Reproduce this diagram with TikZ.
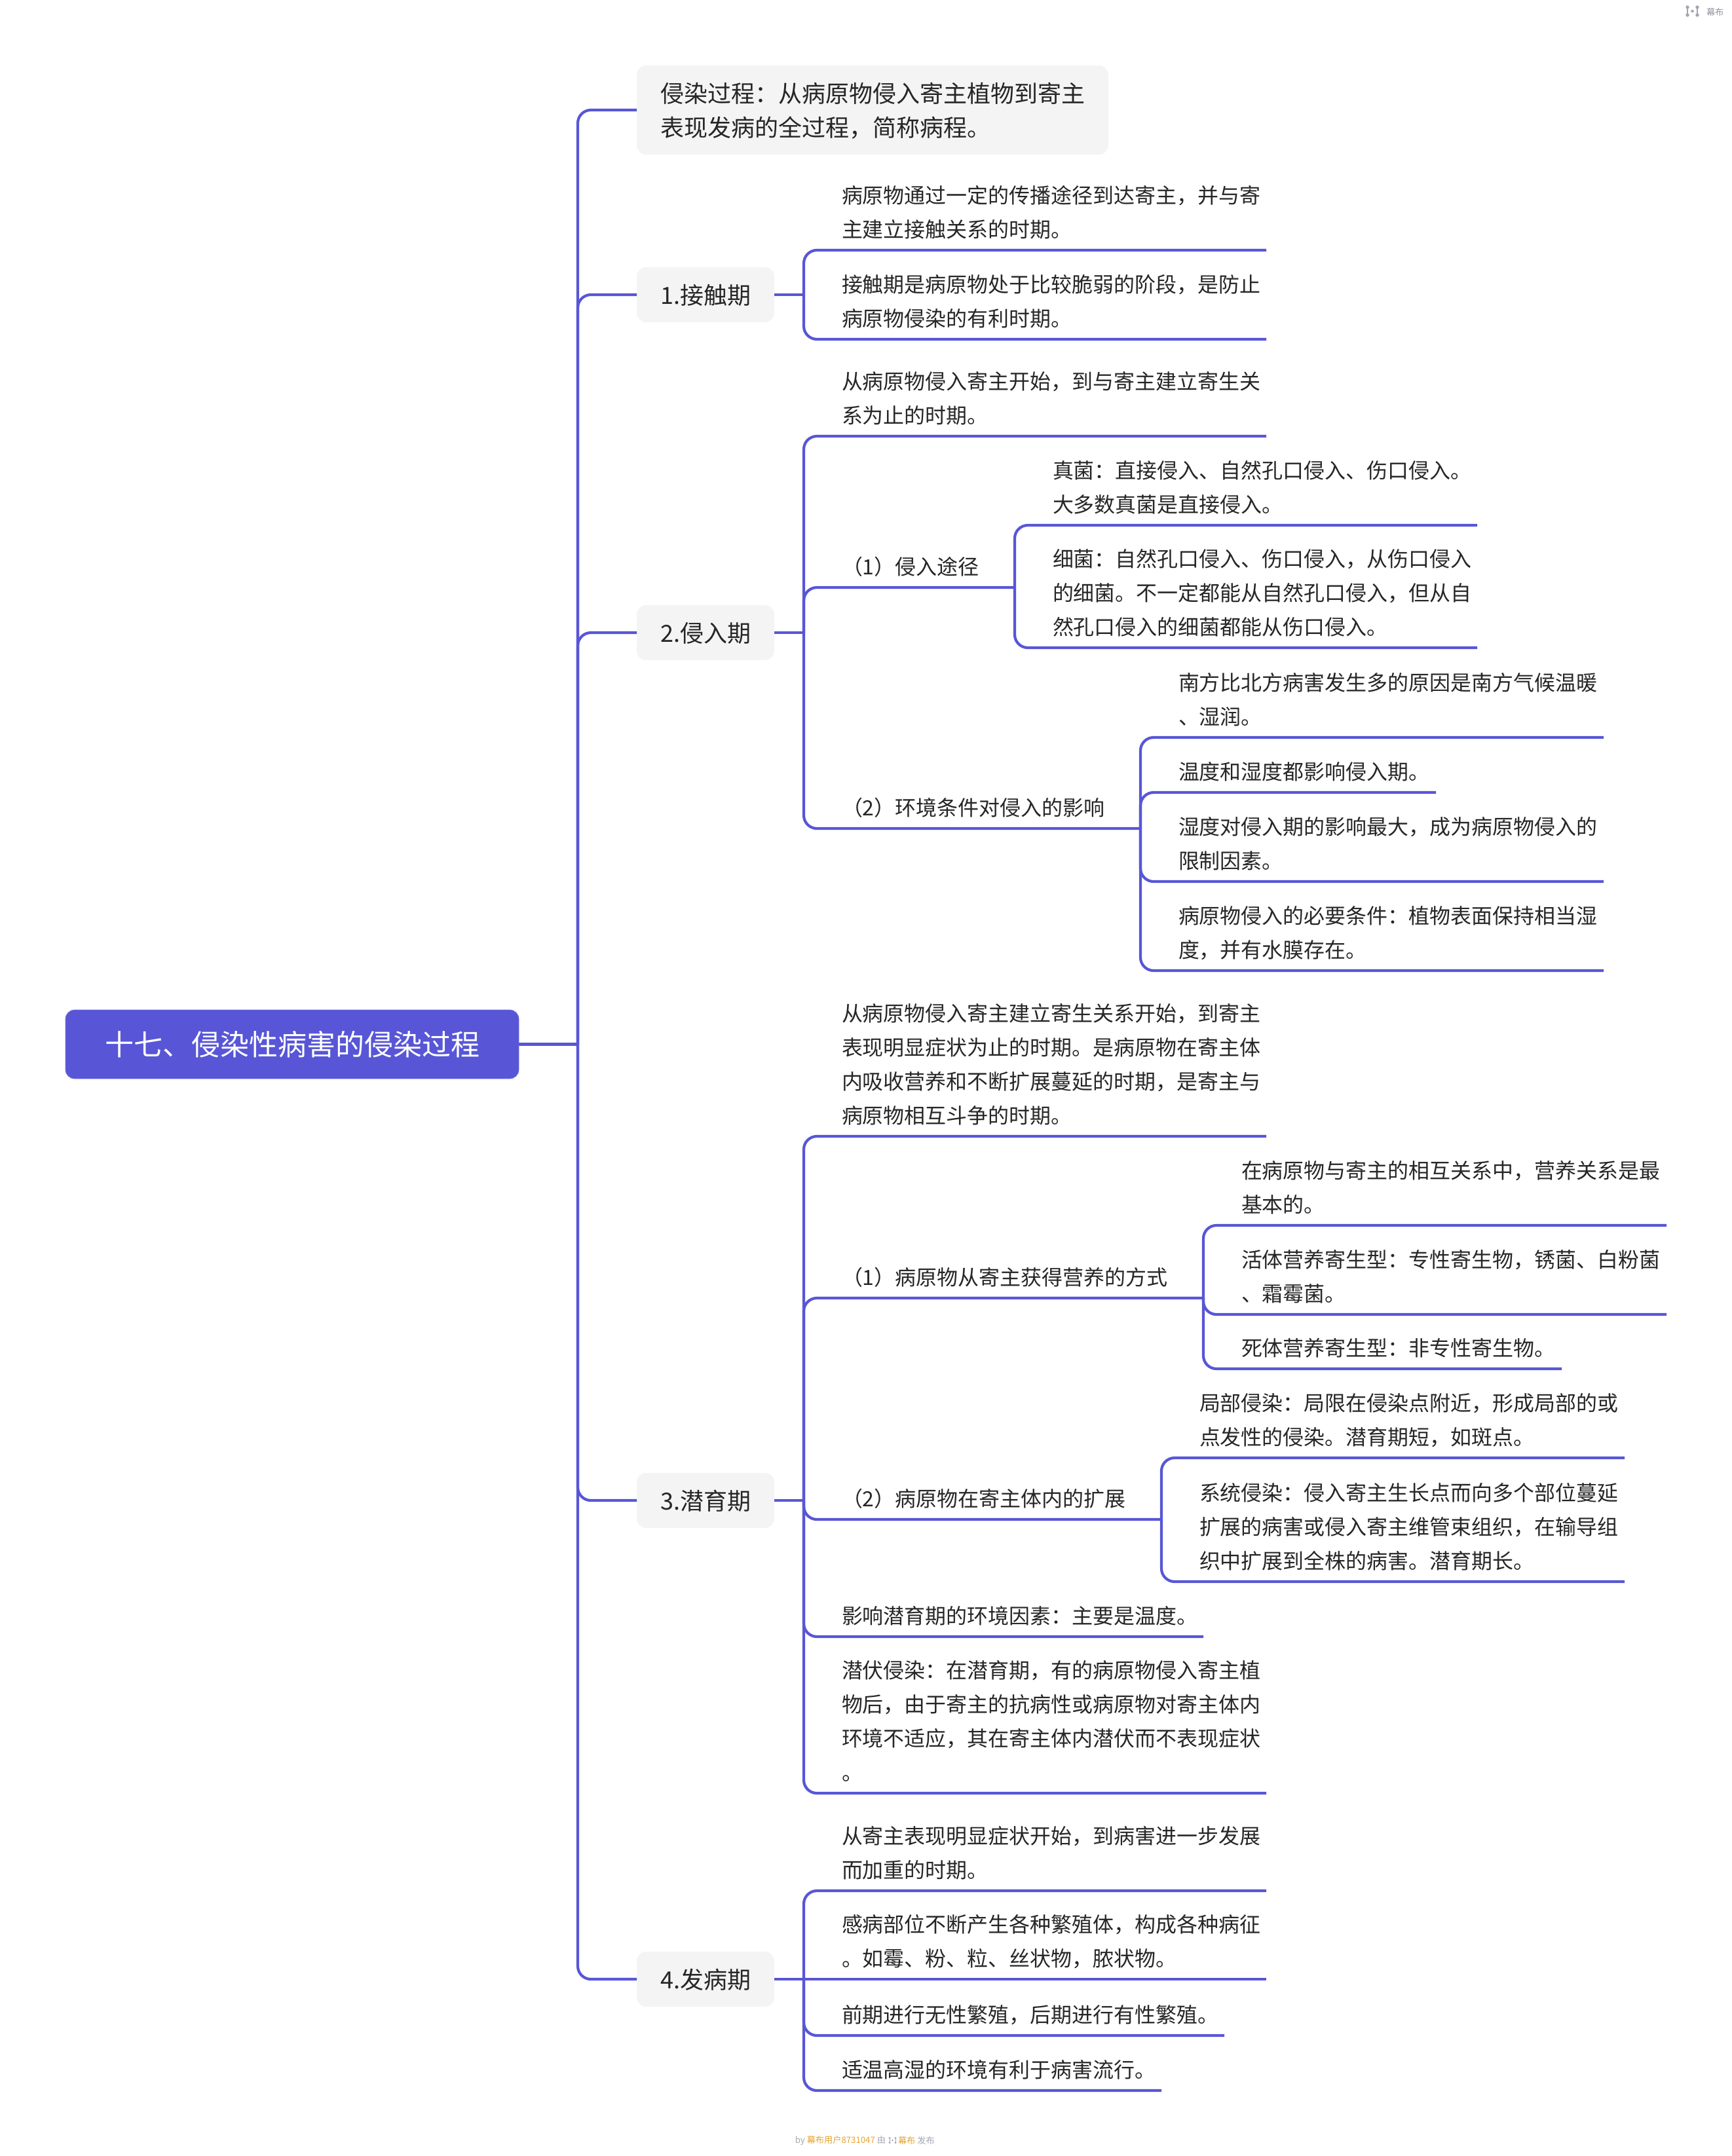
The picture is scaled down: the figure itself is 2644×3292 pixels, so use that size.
\documentclass[tikz,border=0pt]{standalone}
\usepackage{fontspec}
\setmainfont{Noto Sans CJK SC}
\definecolor{indigo}{HTML}{5856D6}
\definecolor{ink}{HTML}{262626}
\definecolor{boxfill}{HTML}{F4F4F4}
\definecolor{mutedgrey}{HTML}{A2A6AE}
\definecolor{amber}{HTML}{E5A32E}
\tikzset{
  conn/.style={draw=indigo,line width=2.1pt,rounded corners=10pt},
  stub/.style={draw=indigo,line width=2.1pt},
  rootbox/.style={fill=indigo,draw=indigo!85!white,line width=.4pt,rounded corners=7pt,text=white,font=\fontsize{22}{26}\selectfont,minimum width=346pt,minimum height=52.5pt,inner sep=0pt,anchor=west,outer sep=0pt},
  topbox/.style={fill=boxfill,rounded corners=7pt,text=ink,font=\fontsize{18}{26.25}\selectfont,minimum height=42pt,minimum width=105pt,inner sep=0pt,anchor=west,outer sep=0pt},
  leafnode/.style={anchor=south west,inner sep=0pt,outer sep=0pt,text=ink},
  foot/.style={font=\fontsize{6.6}{8}\selectfont,inner sep=0pt,outer sep=0pt,text=mutedgrey},
}
\newcommand\leaf[5]{%
  \pgfmathsetmacro\lfwidth{(#3-#2)/2}%
  \node[leafnode] (#1) at (#2,#4) {\makebox[\lfwidth pt][l]{\fontsize{15.98}{26}\selectfont\hspace*{29pt}\begin{tabular}[b]{@{}l@{}}#5\rule[-9.75pt]{0pt}{0pt}\end{tabular}}};}
\newcommand\topconn[1]{\draw[conn] (root.east -| trunk) -- (trunk |- #1.west) -- (#1.west);}
\newcommand\grpstub[2]{\draw[stub] (#1.east) -- (#1.east -| #2.south west);}
\newcommand\grpconn[2]{\draw[conn] (#1.east -| #2.south west) -- (#2.south west) -- (#2.south east);}
\newcommand\subconn[2]{\draw[conn] (#1.south east) -- (#2.south west) -- (#2.south east);}
\newcommand\boxlabel[1]{\raisebox{-7.3pt}[0pt][0pt]{#1}}
\newcommand\mbicon[4]{\begin{scope}[shift={(#1,#2)},mutedgrey]
  \draw[line width=#4] (-#3,-#3*.8) -- (-#3,#3*.8);
  \draw[line width=#4] (#3,-#3*.8) -- (#3,#3*.8);
  \fill (-#3,-#3*.8) circle[radius=#3*.36];
  \fill (-#3,#3*.8) circle[radius=#3*.36];
  \fill (#3,-#3*.8) circle[radius=#3*.36];
  \fill (#3,#3*.8) circle[radius=#3*.36];
  \fill (0,0) circle[radius=#3*.3];
\end{scope}}
\begin{document}
\begin{tikzpicture}[x=0.5pt,y=-0.5pt]
\useasboundingbox (0,0) rectangle (2644,3292);
\coordinate (trunk) at (882,1594);
% root and top level
\node[rootbox] (root) at (100,1594.5) {十七、侵染性病害的侵染过程};
\node[topbox,minimum width=360pt,minimum height=68pt] (intro) at (972,168) {\raisebox{-20.34pt}[0pt][0pt]{\begin{tabular}[b]{@{}l@{}}侵染过程：从病原物侵入寄主植物到寄主\\表现发病的全过程，简称病程。\end{tabular}}};
\node[topbox] (g1) at (972,450) {\boxlabel{1.接触期}};
\node[topbox] (g2) at (972,966) {\boxlabel{2.侵入期}};
\node[topbox] (g3) at (972,2291) {\boxlabel{3.潜育期}};
\node[topbox] (g4) at (972,3022) {\boxlabel{4.发病期}};
\draw[stub] (root.east) -- (root.east -| trunk);
\topconn{intro}\topconn{g1}\topconn{g2}\topconn{g3}\topconn{g4}
% group 1
\leaf{a1}{1227}{1933}{382}{病原物通过一定的传播途径到达寄主，并与寄\\主建立接触关系的时期。}
\leaf{a2}{1227}{1933}{518}{接触期是病原物处于比较脆弱的阶段，是防止\\病原物侵染的有利时期。}
\grpstub{g1}{a1}\grpconn{g1}{a1}\grpconn{g1}{a2}
% group 2
\leaf{b1}{1227}{1933}{666}{从病原物侵入寄主开始，到与寄主建立寄生关\\系为止的时期。}
\leaf{b2}{1227}{1549}{897}{（1）侵入途径}
\leaf{b3}{1227}{1741}{1265}{（2）环境条件对侵入的影响}
\grpstub{g2}{b1}\grpconn{g2}{b1}\grpconn{g2}{b2}\grpconn{g2}{b3}
\leaf{b21}{1549}{2255}{802}{真菌：直接侵入、自然孔口侵入、伤口侵入。\\大多数真菌是直接侵入。}
\leaf{b22}{1549}{2255}{989}{细菌：自然孔口侵入、伤口侵入，从伤口侵入\\的细菌。不一定都能从自然孔口侵入，但从自\\然孔口侵入的细菌都能从伤口侵入。}
\subconn{b2}{b21}\subconn{b2}{b22}
\leaf{b31}{1741}{2448}{1126}{南方比北方病害发生多的原因是南方气候温暖\\、湿润。}
\leaf{b32}{1741}{2192}{1210}{温度和湿度都影响侵入期。}
\leaf{b33}{1741}{2448}{1346}{湿度对侵入期的影响最大，成为病原物侵入的\\限制因素。}
\leaf{b34}{1741}{2448}{1482}{病原物侵入的必要条件：植物表面保持相当湿\\度，并有水膜存在。}
\subconn{b3}{b31}\subconn{b3}{b32}\subconn{b3}{b33}\subconn{b3}{b34}
% group 3
\leaf{c1}{1227}{1933}{1735}{从病原物侵入寄主建立寄生关系开始，到寄主\\表现明显症状为止的时期。是病原物在寄主体\\内吸收营养和不断扩展蔓延的时期，是寄主与\\病原物相互斗争的时期。}
\leaf{c2}{1227}{1837}{1982}{（1）病原物从寄主获得营养的方式}
\leaf{c3}{1227}{1773}{2320}{（2）病原物在寄主体内的扩展}
\leaf{c4}{1227}{1837}{2499}{影响潜育期的环境因素：主要是温度。}
\leaf{c5}{1227}{1933}{2738}{潜伏侵染：在潜育期，有的病原物侵入寄主植\\物后，由于寄主的抗病性或病原物对寄主体内\\环境不适应，其在寄主体内潜伏而不表现症状\\。}
\grpstub{g3}{c1}\grpconn{g3}{c1}\grpconn{g3}{c2}\grpconn{g3}{c3}\grpconn{g3}{c4}\grpconn{g3}{c5}
\leaf{c21}{1837}{2544}{1871}{在病原物与寄主的相互关系中，营养关系是最\\基本的。}
\leaf{c22}{1837}{2544}{2007}{活体营养寄生型：专性寄生物，锈菌、白粉菌\\、霜霉菌。}
\leaf{c23}{1837}{2384}{2090}{死体营养寄生型：非专性寄生物。}
\subconn{c2}{c21}\subconn{c2}{c22}\subconn{c2}{c23}
\leaf{c31}{1773}{2480}{2226}{局部侵染：局限在侵染点附近，形成局部的或\\点发性的侵染。潜育期短，如斑点。}
\leaf{c32}{1773}{2480}{2415}{系统侵染：侵入寄主生长点而向多个部位蔓延\\扩展的病害或侵入寄主维管束组织，在输导组\\织中扩展到全株的病害。潜育期长。}
\subconn{c3}{c31}\subconn{c3}{c32}
% group 4
\leaf{d1}{1227}{1933}{2887}{从寄主表现明显症状开始，到病害进一步发展\\而加重的时期。}
\leaf{d2}{1227}{1933}{3022}{感病部位不断产生各种繁殖体，构成各种病征\\。如霉、粉、粒、丝状物，脓状物。}
\leaf{d3}{1227}{1869}{3108}{前期进行无性繁殖，后期进行有性繁殖。}
\leaf{d4}{1227}{1773}{3192}{适温高湿的环境有利于病害流行。}
\grpconn{g4}{d1}\draw[stub] (g4.east) -- (d2.south east);\grpconn{g4}{d3}\grpconn{g4}{d4}
% watermarks
\mbicon{2583.5}{17}{7.5}{.55pt}
\node[foot,anchor=west,text=mutedgrey!90!black] (wmark) at (2605,18) {幕布};
\node[foot,anchor=east] (footl) at (1352,3268) {by {\color{amber}幕布用户8731047} 由};
\mbicon{1362.5}{3268}{4.5}{.35pt}
\node[foot,anchor=west] (footr) at (1371,3268) {{\color{amber}幕布} 发布};
\end{tikzpicture}
\end{document}
